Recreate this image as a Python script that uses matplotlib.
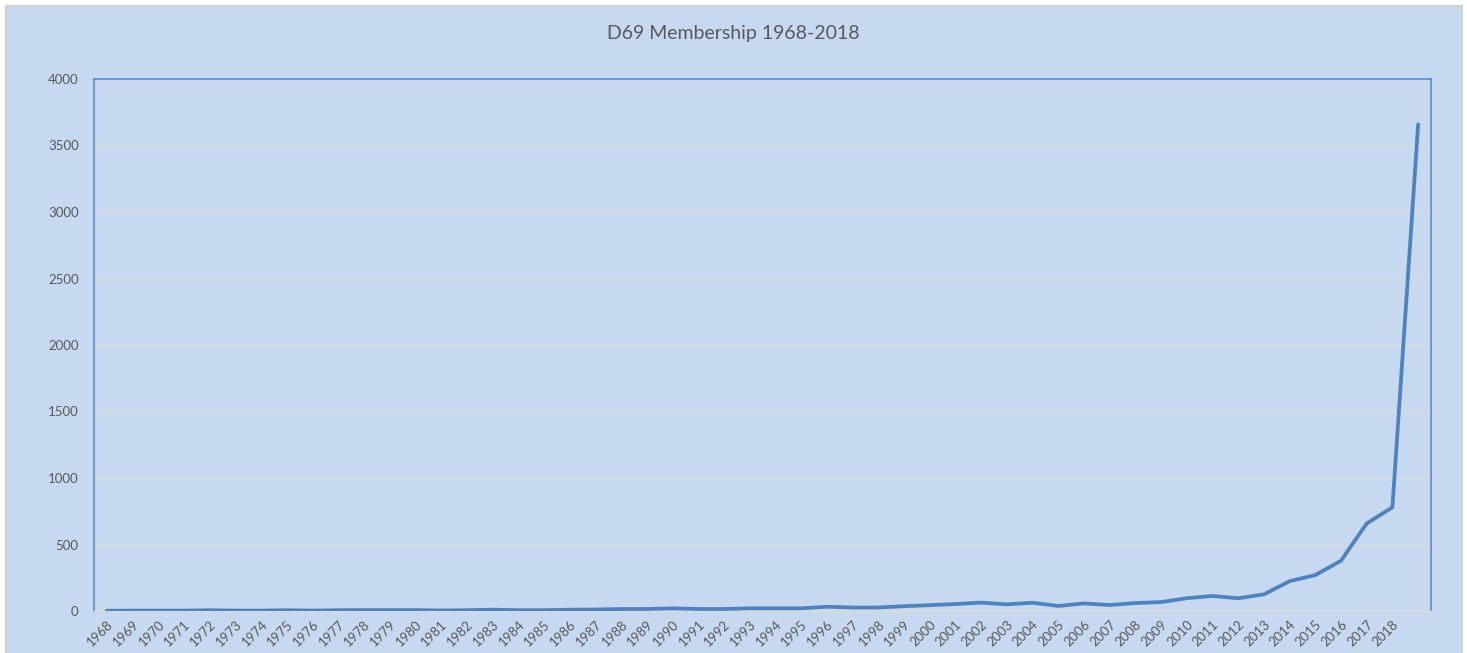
import matplotlib
matplotlib.use("Agg")
import matplotlib.pyplot as plt
from matplotlib.patches import Rectangle

years = [str(y) for y in range(1968, 2019)] + [""]
members = [2, 3, 3, 3, 6, 3, 3, 6, 3, 6,
           7, 7, 7, 4, 6, 10, 6, 6, 10, 11,
           15, 15, 20, 15, 15, 20, 20, 20, 32, 26,
           26, 36, 44, 52, 63, 50, 62, 38, 57, 45,
           60, 67, 96, 113, 96, 125, 224, 270, 378, 658,
           780, 3658]
y_ticks = [0, 500, 1000, 1500, 2000, 2500, 3000, 3500, 4000]

W, H = 1467, 653
fig = plt.figure(figsize=(W / 100, H / 100), dpi=100)
fig.patch.set_facecolor("white")
bg = "#C6D9F0"
fig.patches.append(Rectangle((6 / W, -0.01), (1462 - 6) / W, (H - 6) / H + 0.01,
                             transform=fig.transFigure, facecolor=bg,
                             edgecolor="#D0D0D0", linewidth=1.5, zorder=-10))

ax = fig.add_axes([94 / W, (H - 611) / H, (1431 - 94) / W, (611 - 79) / H])
ax.set_zorder(5)
ax.set_facecolor(bg)
font = "Lato"
txt = "#595959"

x = list(range(len(years)))
ax.plot(x, members, color="#4F81BD", linewidth=2.7, solid_joinstyle="round",
        solid_capstyle="round", zorder=3)

ax.set_xlim(-0.5, len(years) - 0.5)
ax.set_ylim(0, 4000)
ax.set_yticks(y_ticks)
ax.set_yticklabels([str(v) for v in y_ticks], fontsize=9.5, color=txt, family=font)
ax.set_xticks(x)
ax.set_xticklabels(years, rotation=45, ha="right", rotation_mode="anchor",
                   fontsize=9.5, color=txt, family=font)
ax.tick_params(axis="both", length=0)
ax.tick_params(axis="y", pad=11)
ax.tick_params(axis="x", pad=5)

ax.grid(axis="y", color="#D9D9D9", linewidth=1)
ax.set_axisbelow(True)
for s in ["left", "top", "right"]:
    ax.spines[s].set_color("#5B8BD0")
    ax.spines[s].set_linewidth(1.2)
ax.spines["bottom"].set_color("#D9D9D9")
ax.spines["bottom"].set_linewidth(1)

fig.text(0.5, 1 - 33 / H, "D69 Membership 1968-2018", ha="center", va="center",
         fontsize=14, color=txt, family=font)

fig.savefig("out.png", dpi=100, facecolor=fig.get_facecolor())
